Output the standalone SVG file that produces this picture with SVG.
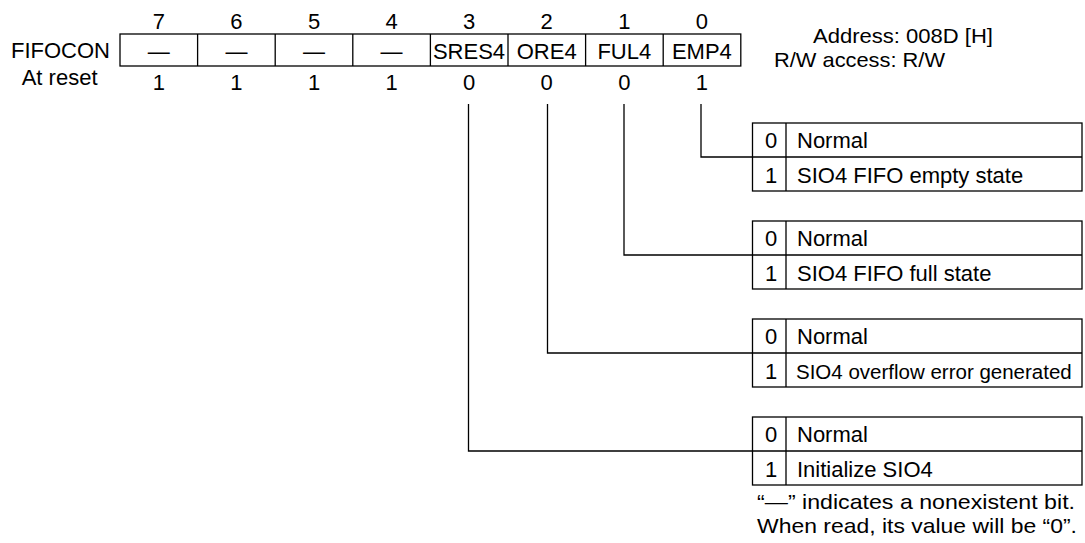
<svg xmlns="http://www.w3.org/2000/svg" width="1085" height="543" viewBox="0 0 1085 543">
<style>
text{font-family:"Liberation Sans",Arial,sans-serif;font-size:22px;fill:#000}
.c{text-anchor:middle}
.s{font-size:21px}
.box{fill:#fff;stroke:#000;stroke-width:1.3}
.ln{fill:none;stroke:#000;stroke-width:1.3}
</style>
<rect width="1085" height="543" fill="#fff"/>
<g id="register">
<text class="c" x="158.8" y="28.5">7</text>
<text class="c" x="236.4" y="28.5">6</text>
<text class="c" x="314" y="28.5">5</text>
<text class="c" x="391.5" y="28.5">4</text>
<text class="c" x="469" y="28.5">3</text>
<text class="c" x="546.7" y="28.5">2</text>
<text class="c" x="624.3" y="28.5">1</text>
<text class="c" x="701.9" y="28.5">0</text>
<text x="110" y="58" text-anchor="end">FIFOCON</text>
<text x="97.5" y="85" text-anchor="end">At reset</text>
<rect class="box" x="120" y="34" width="620.8" height="32"/>
<path class="ln" d="M197.6 34V66M275.2 34V66M352.8 34V66M430.4 34V66M508 34V66M585.6 34V66M663.2 34V66"/>
<text class="c" x="158.8" y="59">—</text>
<text class="c" x="236.4" y="59">—</text>
<text class="c" x="314" y="59">—</text>
<text class="c" x="391.5" y="59">—</text>
<text class="c" x="469" y="59">SRES4</text>
<text class="c" x="546.7" y="59">ORE4</text>
<text class="c" x="624.3" y="59">FUL4</text>
<text class="c" x="701.9" y="59">EMP4</text>
<text class="c" x="158.8" y="90">1</text>
<text class="c" x="236.4" y="90">1</text>
<text class="c" x="314" y="90">1</text>
<text class="c" x="391.5" y="90">1</text>
<text class="c" x="469" y="90">0</text>
<text class="c" x="546.7" y="90">0</text>
<text class="c" x="624.3" y="90">0</text>
<text class="c" x="701.9" y="90">1</text>
</g>
<g id="address">
<text class="s" x="813" y="43" textLength="180" lengthAdjust="spacingAndGlyphs">Address: 008D [H]</text>
<text class="s" x="774" y="67" textLength="171" lengthAdjust="spacingAndGlyphs">R/W access: R/W</text>
</g>
<g id="connectors">
<path class="ln" d="M701 104V157H752.5"/>
<path class="ln" d="M624 104V255H752.5"/>
<path class="ln" d="M547.5 104V353H752.5"/>
<path class="ln" d="M468.5 104V451H752.5"/>
</g>
<g id="emp4-table">
<rect class="box" x="752.5" y="123" width="329.5" height="68"/>
<path class="ln" d="M752.5 157H1082M786 123V191"/>
<text class="c" x="771" y="148">0</text>
<text x="797" y="148">Normal</text>
<text class="c" x="771" y="183">1</text>
<text x="797" y="183">SIO4 FIFO empty state</text>
</g>
<g id="ful4-table">
<rect class="box" x="752.5" y="221" width="329.5" height="68"/>
<path class="ln" d="M752.5 255H1082M786 221V289"/>
<text class="c" x="771" y="246">0</text>
<text x="797" y="246">Normal</text>
<text class="c" x="771" y="281">1</text>
<text x="797" y="281">SIO4 FIFO full state</text>
</g>
<g id="ore4-table">
<rect class="box" x="752.5" y="319" width="329.5" height="68"/>
<path class="ln" d="M752.5 353H1082M786 319V387"/>
<text class="c" x="771" y="344">0</text>
<text x="797" y="344">Normal</text>
<text class="c" x="771" y="379">1</text>
<text x="796" y="379" style="font-size:20.5px">SIO4 overflow error generated</text>
</g>
<g id="sres4-table">
<rect class="box" x="752.5" y="417" width="329.5" height="68"/>
<path class="ln" d="M752.5 451H1082M786 417V485"/>
<text class="c" x="771" y="442">0</text>
<text x="797" y="442">Normal</text>
<text class="c" x="771" y="477">1</text>
<text x="797" y="477">Initialize SIO4</text>
</g>
<g id="note">
<text class="s" x="757" y="508.5" textLength="318" lengthAdjust="spacingAndGlyphs">“—” indicates a nonexistent bit.</text>
<text class="s" x="757" y="533" textLength="320" lengthAdjust="spacingAndGlyphs">When read, its value will be “0”.</text>
</g>
</svg>
